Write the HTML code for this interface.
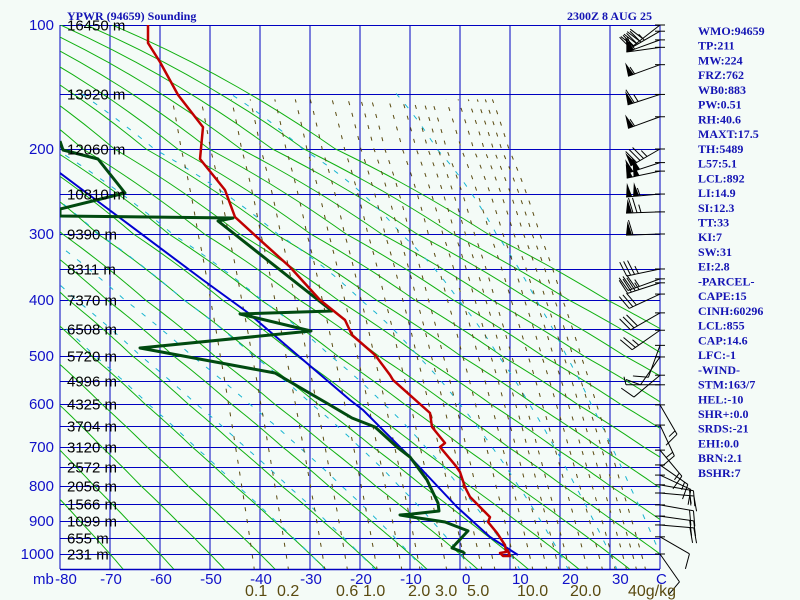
<!DOCTYPE html>
<html><head><meta charset="utf-8"><style>
html,body{margin:0;padding:0;background:#f4fbf7;}
svg{display:block;font-family:"Liberation Sans",sans-serif;}
.ht{font-size:15px;fill:#000;}
.pl{font-size:15px;fill:#1010c8;}
.tl{font-size:15px;fill:#1010c8;}
.ml{font-size:16px;fill:#5a4a10;}
.info{font-family:"Liberation Serif",serif;font-weight:bold;font-size:12px;fill:#1414b4;}
</style></head><body>
<svg id="chart" width="800" height="600" viewBox="0 0 800 600" xmlns="http://www.w3.org/2000/svg">
<rect x="0" y="0" width="800" height="600" fill="#f4fbf7"/>
<defs><clipPath id="plotclip"><rect x="60" y="25" width="600" height="544"/></clipPath></defs>
<g id="grid"></g>
<g id="bg" clip-path="url(#plotclip)"></g>
<g id="traces" clip-path="url(#plotclip)"></g>
<g id="winds"></g>
<g id="labels"></g>
<text x="67" y="20" class="info">YPWR (94659) Sounding</text>
<text x="652" y="20" class="info" text-anchor="end">2300Z  8 AUG 25</text>
<g id="info"></g>
</svg>
<script>
// ---- data ----
const tempP = [100,114.5,129.8,156.4,182.3,211.8,248.2,280,309,350,400,435.7,462.5,498,539.6,550,621,653.5,690.7,700,746,764,803,831,889,903,936,973,994,997,1006,1006,985];
const tempT = [-62.4,-62.4,-60,-56.4,-51.4,-52,-47,-45,-40,-34,-28,-23,-21.6,-17,-14,-13.4,-6,-5.6,-3,-4,-1,0,1,2,6,5.6,7.4,9,9.2,8,8.6,10,9.4];
const dewP = [193.6,201.2,211.8,251.8,270.6,278.8,281.2,284.7,419.6,425,455.4,485.7,535.4,602.3,632.6,653.5,700,725.6,784.6,848.6,871.4,880,882.9,888.6,903,930,981.8,994,1000];
const dewT = [-80,-79.4,-72.4,-67,-80,-80,-45.4,-48.4,-25.6,-44,-29.8,-64,-37,-26,-21.6,-17,-12.6,-10,-6.6,-4.4,-4.2,-9.6,-12,-9.6,-3,1.6,-1.6,0.6,1];
const parcelP = [228.2,263.5,369.7,421.4,591.7,614,725.6,860,948.5,1003];
const parcelT = [-80,-72,-51.4,-42.6,-22,-19.4,-10,-0.6,6,11.6];
const windP = [100,105,112,118,132,156,174,200,216,226,253,274,300,353,368,374,391,423,454,481,502,540,560,602,649,708,746,772,797,820,854,886,912,948,1000];
const windDir = [232,240,250,262,250,252,250,240,252,258,265,268,268,258,250,252,245,240,235,200,215,230,270,150,155,140,125,115,100,95,100,98,95,120,145];
const windSpd = [40,45,55,60,55,65,55,85,100,100,105,75,60,35,35,35,30,30,25,10,10,10,5,15,15,15,15,10,20,15,20,20,20,10,10];
const pLabels = [100,200,300,400,500,600,700,800,900,1000];
const gridP = [100,155.6,200,253,300,353,400,451.8,500,552,600,651,700,751,800,851,900,951.5,1000];
const heightLabels = ["16450 m","13920 m","12060 m","10810 m","9390 m","8311 m","7370 m","6508 m","5720 m","4996 m","4325 m","3704 m","3120 m","2572 m","2056 m","1566 m","1099 m","655 m","231 m"];
const tTicks = [-80,-70,-60,-50,-40,-30,-20,-10,0,10,20,30];
const mixW = [0.1,0.2,0.4,0.6,1,1.5,2,3,4,5,6,8,10,12,14,16,20,24,28,32,36,40];
const mixLabels = ["0.1","0.2","0.6","1.0","2.0","3.0","5.0","10.0","20.0","40g/kg"];
const mixLabelX = [245,277,336,363,408,435,467,517,570,628];
const infoLines = ["WMO:94659","TP:211","MW:224","FRZ:762","WB0:883","PW:0.51","RH:40.6","MAXT:17.5","TH:5489","L57:5.1","LCL:892","LI:14.9","SI:12.3","TT:33","KI:7","SW:31","EI:2.8","-PARCEL-","CAPE:15","CINH:60296","LCL:855","CAP:14.6","LFC:-1","-WIND-","STM:163/7","HEL:-10","SHR+:0.0","SRDS:-21","EHI:0.0","BRN:2.1","BSHR:7"];

// ---- axes ----
const calP = [100,200,300,400,500,600,700,800,900,1000];
const calY = [25,149,234,300,356,404,447,486,521,554];
function yOf(p){
  if(p>=1000) return 554+(p-1000)/3.03;
  if(p<=100) return 25-(100-p)/0.806;
  for(let i=0;i<calP.length-1;i++){
    if(p>=calP[i]&&p<=calP[i+1]) return calY[i]+(p-calP[i])/(calP[i+1]-calP[i])*(calY[i+1]-calY[i]);
  }
}
function xOf(t){return 460+5*t;}
const NS="http://www.w3.org/2000/svg";
function mk(tag,attrs,parent){const e=document.createElementNS(NS,tag);for(const k in attrs)e.setAttribute(k,attrs[k]);parent.appendChild(e);return e;}
function pathD(pts){return pts.map((q,i)=>(i?'L':'M')+q[0].toFixed(1)+','+q[1].toFixed(1)).join('');}

const grid=document.getElementById('grid'), bg=document.getElementById('bg'), tr=document.getElementById('traces'), wd=document.getElementById('winds'), lb=document.getElementById('labels');

// dry adiabats
for(let th=-70;th<=120;th+=10){
  const pts=[];const K=th+273.15;
  for(let p=1050;p>=95;p-=10){pts.push([xOf(K*Math.pow(p/1000,0.2857)-273.15),yOf(p)]);}
  const e=mk('path',{d:pathD(pts),fill:'none',stroke:'#10b010','stroke-width':1},bg);
  
  
}
// moist adiabats
function dTdp(p,T){const tc=T-273.15;const es=6.112*Math.exp(17.67*tc/(tc+243.5));const rs=0.622*es/(p-es);
  return (287*T+2.5e6*rs)/(1004+(2.5e6*2.5e6*rs*0.622)/(287*T*T))/p;}
for(let tw=-30;tw<=40;tw+=10){
  let T=tw+273.15;const up=[[xOf(tw),yOf(1000)]];
  for(let p=1000;p>155;p-=2){T-=dTdp(p,T)*2;up.push([xOf(T-273.15),yOf(p-2)]);}
  let T2=tw+273.15;const dn=[];
  for(let p=1000;p<1050;p+=2){T2+=dTdp(p,T2)*2;dn.push([xOf(T2-273.15),yOf(p+2)]);}
  const pts=dn.reverse().concat(up);
  const e=mk('path',{d:pathD(pts),fill:'none',stroke:'#18b4d0','stroke-width':1,'stroke-dasharray':'5,9'},bg);
  
  
}
// mixing ratio lines
mixW.forEach(w=>{
  const pts=[];
  for(let p=1050;p>=155;p-=10){const e=w*p/(622+w);const l=Math.log(e/6.112);const td=243.5*l/(17.67-l);pts.push([xOf(td),yOf(p)]);}
  const e=mk('path',{d:pathD(pts),fill:'none',stroke:'#5a4a10','stroke-width':1,'stroke-dasharray':'4,8'},bg);
  
  
});
// grid
for(let t=-80;t<=40;t+=10){
  const e=mk('line',{x1:xOf(t),y1:25,x2:xOf(t),y2:569,stroke:'#0000c0','stroke-width':1},grid);
  
  
}
gridP.forEach((p,i)=>{
  const y=Math.round(yOf(p))+0.5;
  const e=mk('line',{x1:60,y1:y,x2:660,y2:y,stroke:'#0000c0','stroke-width':1},grid);
  
  
  const t=mk('text',{x:67,y:y+5,class:'ht'},lb);t.textContent=heightLabels[i];
  
  
});
const bl=mk('line',{x1:60,y1:569.5,x2:660,y2:569.5,stroke:'#0000c0','stroke-width':1.5},grid);


pLabels.forEach(p=>{
  const t=mk('text',{x:54,y:yOf(p)+5,class:'pl','text-anchor':'end'},lb);t.textContent=p;
  
  
});
const mb=mk('text',{x:33,y:584,class:'tl'},lb);mb.textContent='mb';


tTicks.forEach(t=>{
  const el=t<0?mk('text',{x:xOf(t)+(t===-80?6:1),y:584,class:'tl','text-anchor':'middle'},lb):mk('text',{x:xOf(t)+2,y:584,class:'tl'},lb);
  el.textContent=t<0?'-'+(-t):String(t);
  
  
});
const cl=mk('text',{x:656,y:584,class:'tl'},lb);cl.textContent='C';


mixLabels.forEach((s,i)=>{
  const t=mk('text',{x:mixLabelX[i],y:596,class:'ml'},lb);t.textContent=s;
  
  
});
// traces
function trace(P,T,color,w,name){
  const pts=P.map((p,i)=>[xOf(T[i]),yOf(p)]);
  const e=mk('path',{d:pathD(pts),fill:'none',stroke:color,'stroke-width':w,'stroke-linejoin':'round'},tr);
  
  
}
trace(parcelP,parcelT,'#0000d0',2,'parcel-line');
trace(dewP,dewT,'#004a10',3,'dewpoint-trace');
trace(tempP,tempT,'#c00000',2.5,'temperature-trace');
// wind barbs
windP.forEach((p,i)=>{
  const y=yOf(p), x=660, L=34;
  const a=windDir[i]*Math.PI/180;
  const ux=Math.sin(a), uy=-Math.cos(a);
  const tx=x+L*ux, ty=y+L*uy;
  const tk=mk('line',{x1:655,y1:y,x2:665,y2:y,stroke:'#000','stroke-width':1},wd);
  
  
  const g=mk('g',{},wd);
  
  
  mk('line',{x1:x,y1:y,x2:tx,y2:ty,stroke:'#000','stroke-width':1},g);
  const px=-uy, py=ux;
  let s=windSpd[i], d=0;
  while(s>=50){const bx=tx-ux*d,by=ty-uy*d;
    mk('polygon',{points:`${bx},${by} ${bx+px*14-ux*2},${by+py*14-uy*2} ${bx-ux*6},${by-uy*6}`,fill:'#000'},g);d+=7;s-=50;}
  while(s>=10){const bx=tx-ux*d,by=ty-uy*d;
    mk('line',{x1:bx,y1:by,x2:bx+px*15+ux*4,y2:by+py*15+uy*4,stroke:'#000','stroke-width':1},g);d+=4;s-=10;}
  if(s>=5){const bx=tx-ux*d,by=ty-uy*d;
    mk('line',{x1:bx,y1:by,x2:bx+px*8+ux*2,y2:by+py*8+uy*2,stroke:'#000','stroke-width':1},g);}
});
// info text
const inf=document.getElementById('info');
infoLines.forEach((s,i)=>{
  const t=mk('text',{x:698,y:35+i*14.73,class:'info'},inf);t.textContent=s;
  
  
});
</script>
</body></html>
